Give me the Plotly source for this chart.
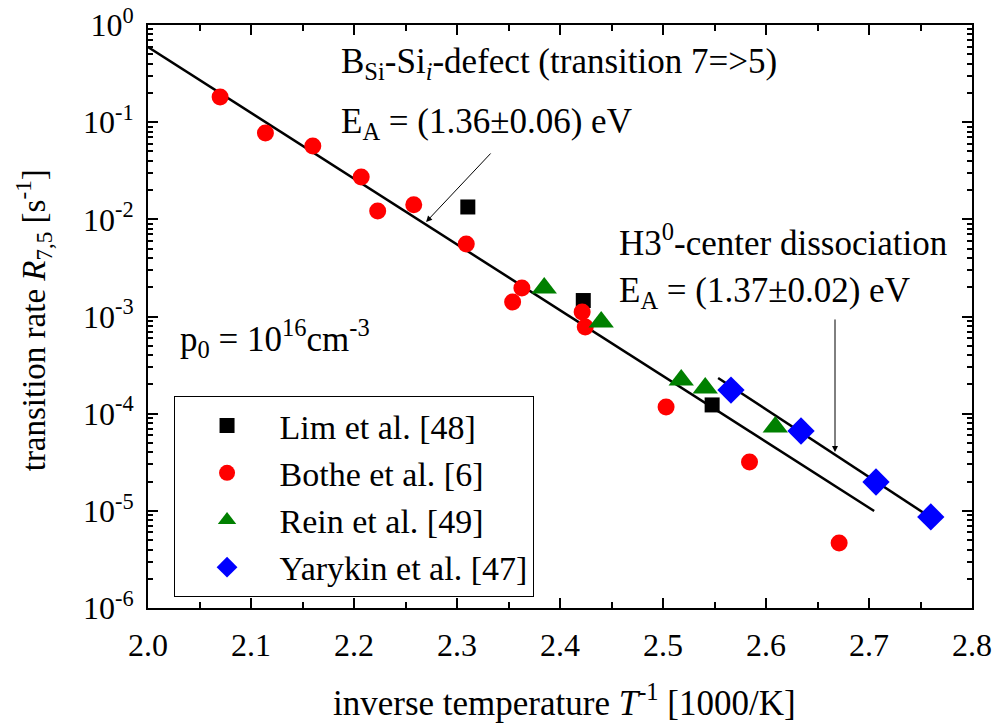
import plotly.graph_objects as go

# ---- data ----
lim_x = [2.3105, 2.4226, 2.5477]
lim_y = [1.34e-2, 1.46e-3, 1.23e-4]

bothe_x = [2.070, 2.114, 2.160, 2.207, 2.223, 2.258, 2.309, 2.363, 2.354, 2.4215, 2.4245, 2.503, 2.584, 2.671]
bothe_y = [0.182, 0.0774, 0.0569, 0.0273, 0.0122, 0.0141, 0.00557, 0.00197, 0.00141, 0.00111, 0.00078, 1.17e-4, 3.18e-5, 4.67e-6]

rein_x = [2.3847, 2.440, 2.5177, 2.541, 2.609]
rein_y = [1.96e-3, 8.8e-4, 2.22e-4, 1.84e-4, 7.3e-5]

yary_x = [2.566, 2.634, 2.7068, 2.760]
yary_y = [1.75e-4, 6.63e-5, 1.98e-5, 8.65e-6]

fit1_x = [2.0, 2.705]
fit1_y = [0.594, 9.97e-6]
fit2_x = [2.5535, 2.765]
fit2_y = [2.33e-4, 7.87e-6]

xticks = [2.0, 2.1, 2.2, 2.3, 2.4, 2.5, 2.6, 2.7, 2.8]
xticktext = ["2.0", "2.1", "2.2", "2.3", "2.4", "2.5", "2.6", "2.7", "2.8"]
ytickvals = [1e0, 1e-1, 1e-2, 1e-3, 1e-4, 1e-5, 1e-6]
yticktext = ["10<sup>0</sup>", "10<sup>-1</sup>", "10<sup>-2</sup>", "10<sup>-3</sup>",
             "10<sup>-4</sup>", "10<sup>-5</sup>", "10<sup>-6</sup>"]

FONT = "Liberation Serif, Times New Roman, serif"
FS_TICK = 32
FS_TXT = 35

fig = go.Figure()
fig.add_trace(go.Scatter(x=fit1_x, y=fit1_y, mode="lines", line=dict(color="black", width=2.5),
                         showlegend=False, hoverinfo="skip"))
fig.add_trace(go.Scatter(x=fit2_x, y=fit2_y, mode="lines", line=dict(color="black", width=2.5),
                         showlegend=False, hoverinfo="skip"))
fig.add_trace(go.Scatter(x=lim_x, y=lim_y, mode="markers", name="Lim et al. [48]",
                         marker=dict(symbol="square", size=15, color="black", line=dict(width=0))))
fig.add_trace(go.Scatter(x=bothe_x, y=bothe_y, mode="markers", name="Bothe et al. [6]",
                         marker=dict(symbol="circle", size=17, color="#ff0000", line=dict(width=0))))
fig.add_trace(go.Scatter(x=rein_x, y=rein_y, mode="markers", name="Rein et al. [49]",
                         marker=dict(symbol="triangle-up", size=22, color="#008000", line=dict(width=0))))
fig.add_trace(go.Scatter(x=yary_x, y=yary_y, mode="markers", name="Yarykin et al. [47]",
                         marker=dict(symbol="diamond", size=21, color="#0000ff", line=dict(width=0))))

fig.update_layout(
    width=995, height=728,
    margin=dict(l=147.5, r=23, t=25, b=120),
    paper_bgcolor="white", plot_bgcolor="white",
    font=dict(family=FONT, size=FS_TXT, color="black"),
    showlegend=True,
    legend=dict(x=0.031, y=0.3636, xanchor="left", yanchor="top",
                bordercolor="black", borderwidth=1, bgcolor="white",
                font=dict(family=FONT, size=34), itemwidth=95, tracegroupgap=0),
    xaxis=dict(range=[2.0, 2.8], tickmode="array", tickvals=xticks, ticktext=xticktext,
               ticks="inside", ticklen=10, tickwidth=2, tickcolor="black",
               showline=True, linewidth=2, linecolor="black", mirror="ticks",
               showgrid=False, zeroline=False, ticklabelstandoff=8, automargin=False,
               minor=dict(ticks="inside", ticklen=6, tickwidth=2, dtick=0.05, tick0=2.0,
                          showgrid=False, tickcolor="black"),
               tickfont=dict(family=FONT, size=FS_TICK)),
    yaxis=dict(type="log", range=[-6, 0], tickmode="array", tickvals=ytickvals, ticktext=yticktext,
               ticks="inside", ticklen=10, tickwidth=2, tickcolor="black",
               showline=True, linewidth=2, linecolor="black", mirror="ticks",
               showgrid=False, zeroline=False, ticklabelstandoff=6, automargin=False,
               minor=dict(ticks="inside", ticklen=5, tickwidth=1.5, dtick="D1",
                          showgrid=False, tickcolor="black"),
               tickfont=dict(family=FONT, size=FS_TICK)),
)

ann = []
ann.append(dict(xref="x", yref="y", x=2.185, y=-0.40, xanchor="left", yanchor="middle", showarrow=False,
                text="B<sub>Si</sub>-Si<sub><i>i</i></sub>-defect (transition 7=>5)"))
ann.append(dict(xref="x", yref="y", x=2.185, y=-1.01, xanchor="left", yanchor="middle", showarrow=False,
                text="E<sub>A</sub> = (1.36±0.06) eV"))
ann.append(dict(xref="x", yref="y", x=2.4556, y=-2.22, xanchor="left", yanchor="middle", showarrow=False,
                text="H3<sup>0</sup>-center dissociation"))
ann.append(dict(xref="x", yref="y", x=2.4556, y=-2.75, xanchor="left", yanchor="middle", showarrow=False,
                text="E<sub>A</sub> = (1.37±0.02) eV"))
ann.append(dict(xref="x", yref="y", x=2.0288, y=-3.23, xanchor="left", yanchor="middle", showarrow=False,
                text="p<sub>0</sub> = 10<sup>16</sup>cm<sup>-3</sup>"))
# arrows
ann.append(dict(xref="x", yref="y", axref="x", ayref="y", x=2.270, y=-2.027, ax=2.334, ay=-1.307,
                text="", showarrow=True, arrowhead=2, arrowsize=1.2, arrowwidth=1, arrowcolor="black"))
ann.append(dict(xref="x", yref="y", axref="x", ayref="y", x=2.667, y=-4.394, ax=2.667, ay=-3.015,
                text="", showarrow=True, arrowhead=2, arrowsize=1.2, arrowwidth=1, arrowcolor="black"))
# axis titles
ann.append(dict(xref="paper", yref="paper", x=0.505, y=-0.158, xanchor="center", yanchor="middle",
                showarrow=False, text="inverse temperature <i>T</i><sup>-1</sup> [1000/K]"))
ann.append(dict(xref="paper", yref="paper", x=-0.138, y=0.494, xanchor="center", yanchor="middle",
                showarrow=False, textangle=-90, font=dict(family=FONT, size=33),
                text="transition rate <i>R</i><sub>7,5</sub> [s<sup>-1</sup>]"))
fig.update_layout(annotations=ann)

fig.write_html("out.html")
